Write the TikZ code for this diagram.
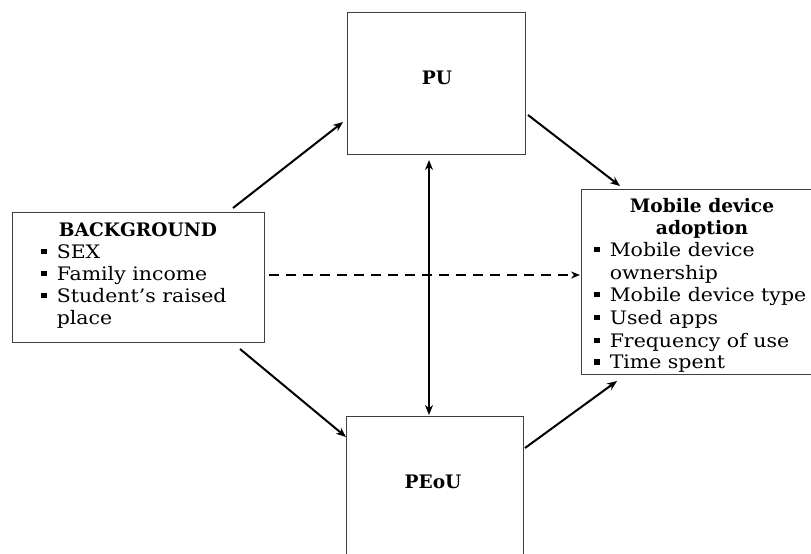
\documentclass[tikz,border=0pt]{standalone}
\usepackage{fontspec}
\newfontfamily\dfont[FakeStretch=1.1,BoldFeatures={FakeStretch=1.0}]{DejaVu Serif}
\usetikzlibrary{arrows.meta}
\newcommand{\sqb}{\rule[0.2em]{0.3em}{0.3em}}
\tikzset{
  box/.style={draw=black!75, line width=1pt, fill=none, inner sep=0pt},
  txt/.style={anchor=base west, inner sep=0pt, font=\dfont\fontsize{18.6pt}{22pt}\selectfont},
  ctxt/.style={anchor=base, inner sep=0pt, font=\dfont\fontsize{18.6pt}{22pt}\selectfont\bfseries},
  arr/.style={line width=2pt, -{Stealth[length=10pt,width=8pt]}},
  darr/.style={line width=2pt, {Stealth[length=10pt,width=8pt]}-{Stealth[length=10pt,width=8pt]}},
  dasharr/.style={line width=2pt, dash pattern=on 10pt off 7pt, -{Stealth[length=9pt,width=7pt]}}
}
\begin{document}
\begin{tikzpicture}[x=1pt,y=-1pt]
\useasboundingbox (0,0) rectangle (811,554);
% boxes
\node[box, minimum width=252pt, minimum height=130pt] (bg) at (138,277) {};
\node[box, minimum width=178pt, minimum height=142pt] (pu) at (436,83) {};
\node[box, minimum width=177pt, minimum height=160pt] (peou) at (434.5,496) {};
\node[box, minimum width=240pt, minimum height=185pt] (mob) at (701,281.5) {};
% texts BACKGROUND
\node[ctxt] (bgh) at (138,236) {BACKGROUND};
\node[txt] (bg1) at (41,258) {\sqb\hspace{10pt}SEX};
\node[txt] (bg2) at (41,280) {\sqb\hspace{10pt}Family income};
\node[txt] (bg3) at (41,302) {\sqb\hspace{10pt}Student’s raised};
\node[txt] (bg4) at (56.6,324) {place};
% PU and PEoU
\node[ctxt] (pul) at (437,84) {PU};
\node[ctxt] (peoul) at (433,488) {PEoU};
% Mobile
\node[ctxt] (mh1) at (702,212) {Mobile device};
\node[ctxt] (mh2) at (702,234) {adoption};
\node[txt] (m1) at (594,256) {\sqb\hspace{10pt}Mobile device};
\node[txt] (m1b) at (609.6,279) {ownership};
\node[txt] (m2) at (594,301) {\sqb\hspace{10pt}Mobile device type};
\node[txt] (m3) at (594,324) {\sqb\hspace{10pt}Used apps};
\node[txt] (m4) at (594,347) {\sqb\hspace{10pt}Frequency of use};
\node[txt] (m5) at (594,368.5) {\sqb\hspace{10pt}Time spent};
% coordinates
\coordinate (a1s) at (233,208);
\coordinate (a1e) at (343,122);
\coordinate (a2s) at (528,115);
\coordinate (a2e) at (620,186);
\coordinate (a3s) at (240,349);
\coordinate (a3e) at (346,437);
\coordinate (a4s) at (525,448);
\coordinate (a4e) at (617,381);
\coordinate (vs) at (429,160);
\coordinate (ve) at (429,415);
\coordinate (ds) at (269,275);
\coordinate (de) at (580,275);
\draw[arr] (a1s) -- (a1e);
\draw[arr] (a2s) -- (a2e);
\draw[arr] (a3s) -- (a3e);
\draw[arr] (a4s) -- (a4e);
\draw[darr] (vs) -- (ve);
\draw[dasharr] (ds) -- (de);
\end{tikzpicture}
\end{document}
